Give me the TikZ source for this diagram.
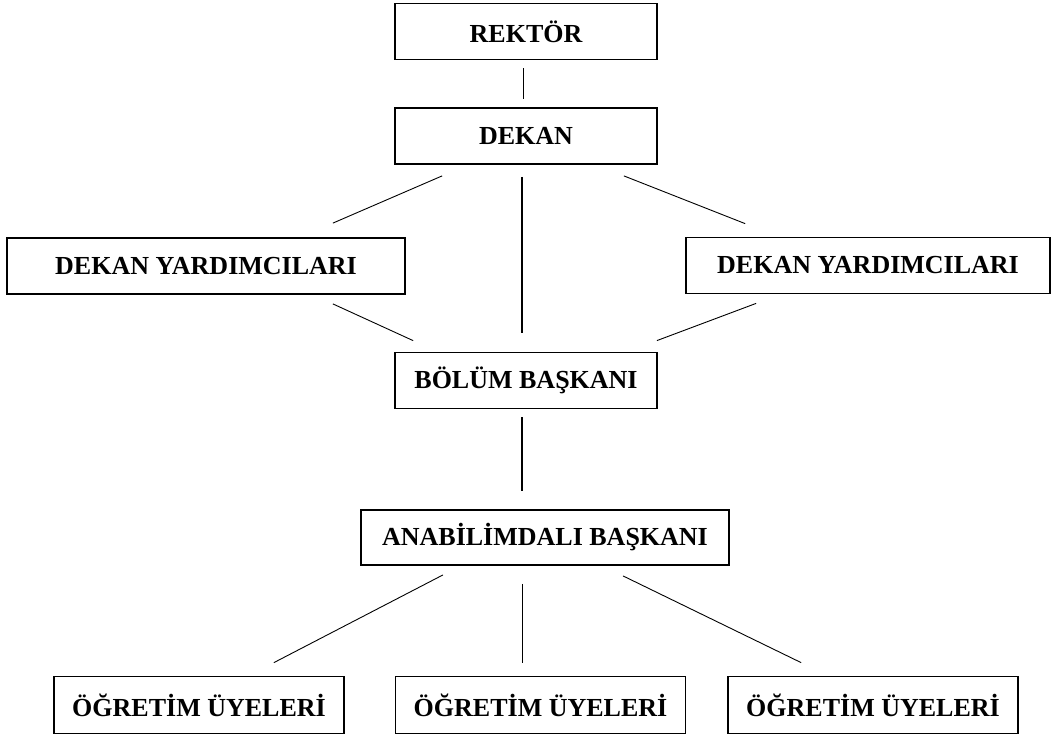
\documentclass[tikz,border=0pt]{standalone}
\usepackage{fontspec}
\setmainfont{Liberation Serif}
\usetikzlibrary{positioning}

\tikzset{
  unit/.style={draw, line width=1.8pt, minimum height=56pt, inner sep=0pt,
    font=\fontsize{26}{30}\selectfont\bfseries},
  link/.style={line width=0.9pt},
  trunk/.style={line width=1.5pt}
}

\begin{document}
\begin{tikzpicture}[x=1pt,y=-1pt]
  \useasboundingbox (0,0) rectangle (1054,737);
  % Boxes
  \node[unit, minimum width=262pt] (rektor) at (526,31.5) {REKTÖR};
  \node[unit, minimum width=262pt] (dekan) at (526,136) {DEKAN};
  \node[unit, minimum width=398pt] (dyl) at (206,266) {DEKAN YARDIMCILARI};
  \node[unit, minimum width=364pt] (dyr) at (868,265.5) {DEKAN YARDIMCILARI};
  \node[unit, minimum width=262pt] (bolum) at (526,380.5) {BÖLÜM BAŞKANI};
  \node[unit, minimum width=368pt, minimum height=55pt] (ana) at (545,537.5) {ANABİLİMDALI BAŞKANI};
  \foreach \i/\x in {1/199,2/540.5,3/873}
    \node[unit, minimum width=290pt, minimum height=57pt] (og\i) at (\x,705) {ÖĞRETİM ÜYELERİ};
  % Lines
  \draw[link] ([xshift=-3pt,yshift=-8pt]rektor.south) -- ([xshift=-3pt,yshift=8pt]dekan.north);
  \draw[link] ([xshift=48pt,yshift=-11pt]dekan.south west) -- ([xshift=-73pt,yshift=14pt]dyl.north east);
  \draw[trunk] ([xshift=-4pt,yshift=-12pt]dekan.south) -- ([xshift=-4pt,yshift=19pt]bolum.north);
  \draw[link] ([xshift=-34pt,yshift=-11pt]dekan.south east) -- ([xshift=60pt,yshift=13pt]dyr.north west);
  \draw[link] ([xshift=-73pt,yshift=-9pt]dyl.south east) -- ([xshift=19pt,yshift=11pt]bolum.north west);
  \draw[link] ([xshift=71pt,yshift=-9pt]dyr.south west) -- ([xshift=-1pt,yshift=11pt]bolum.north east);
  \draw[trunk] ([xshift=-4pt,yshift=-8pt]bolum.south) -- ([xshift=-23pt,yshift=18pt]ana.north);
  \draw[link] ([xshift=-102pt,yshift=-9pt]ana.south) -- ([xshift=-71pt,yshift=13pt]og1.north east);
  \draw[link] ([xshift=-23pt,yshift=-18pt]ana.south) -- ([xshift=-18.5pt,yshift=13pt]og2.north);
  \draw[link] ([xshift=78pt,yshift=-10pt]ana.south) -- ([xshift=74pt,yshift=13pt]og3.north west);
\end{tikzpicture}
\end{document}
